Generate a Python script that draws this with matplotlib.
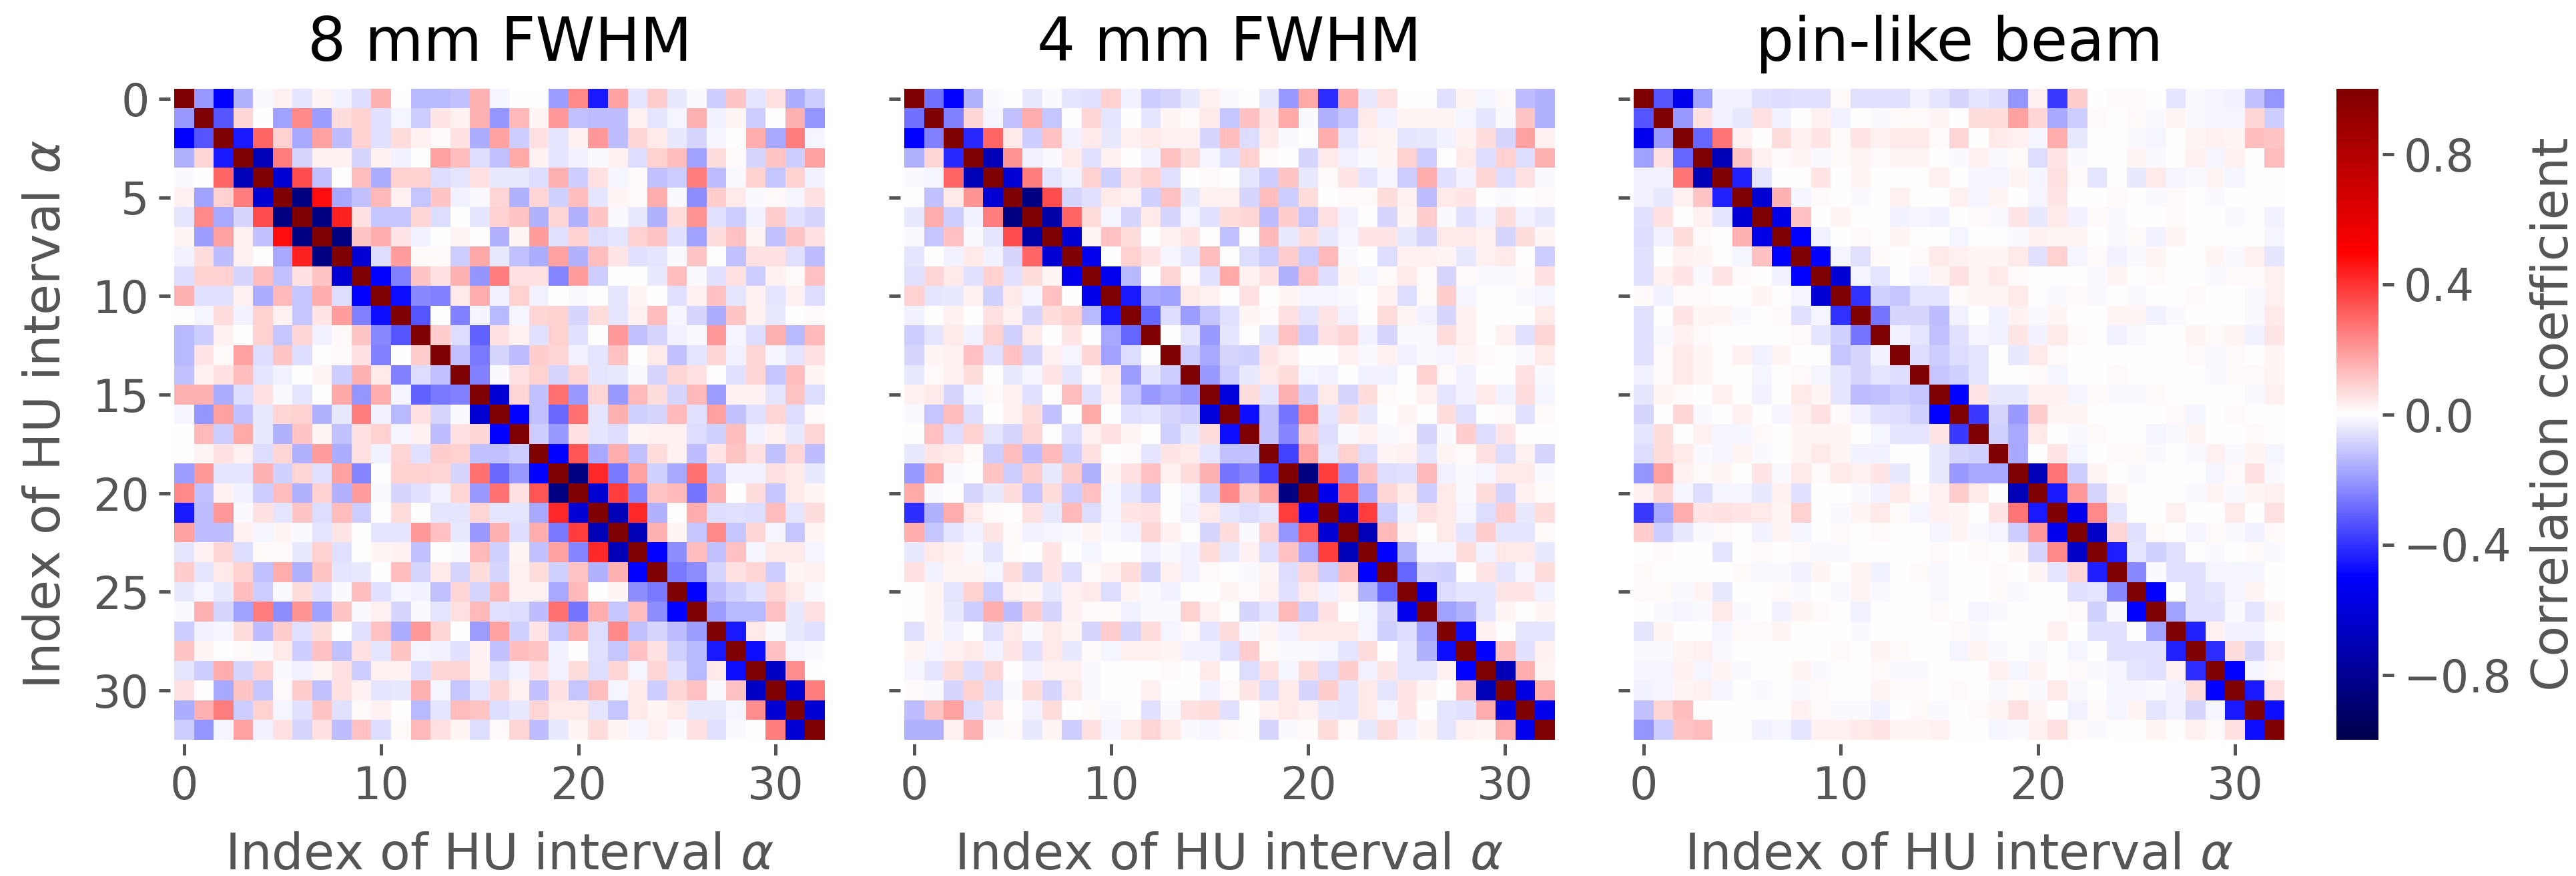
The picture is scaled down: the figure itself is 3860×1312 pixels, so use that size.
import numpy as np
import matplotlib
matplotlib.use("Agg")
import matplotlib.pyplot as plt

W, H = 3861, 1312
DPI = 300

TITLES = ["8 mm FWHM", "4 mm FWHM", "pin-like beam"]
X_TICKS = [0, 10, 20, 30]
Y_TICKS = [0, 5, 10, 15, 20, 25, 30]
CBAR_TICKS = [-0.8, -0.4, 0.0, 0.4, 0.8]
X_LABEL = r"Index of HU interval $\alpha$"
CBAR_LABEL = "Correlation coefficient"

# Upper triangles of the symmetric matrices, in hundredths; row i holds j = i+1 ... 32
FWHM8 = [
    [-20,-50,-15,-1,3,-5,2,-3,-7,15,0,-14,-14,-12,15,-2, 0,0,-19,23,-45,18,-5,10,-4,-1,-10,11,-5,6,-16,-10],
    [-33,8,0,-18,23,-19,7,9,-6,-2,-10,5,3,15,-21, 14,2,20,-12,-13,-13,3,-5,-2,15,-3,2,-10,0,15,-21],
    [-45,30,9,-17,18,-13,9,-6,7,3,1,6,-16,18, -10,6,-5,3,20,-13,8,4,-4,-8,-2,0,16,-17,25,-2],
    [-70,25,-8,3,3,-8,3,-3,0,18,13,-7,-12, 17,3,-5,-3,-1,3,-7,9,13,-18,7,1,-8,11,-10,18],
    [-62,35,-12,0,13,-16,9,9,-7,-5,6,-4, -4,-7,15,-10,6,-2,1,-12,-10,25,-13,-1,9,-11,9,-3],
    [-85,47,-17,-12,14,3,-11,11,-3,-1,8, -15,8,-9,13,-5,2,1,16,-1,-22,10,4,-1,1,-2,6],
    [-85,43,6,-11,-11,8,-7,0,-5,9, 11,-15,8,-15,11,-1,-4,-15,7,21,-6,-10,-3,10,-6,-8],
    [-85,11,16,5,-3,0,2,0,-15, 2,19,-6,9,-7,-5,9,11,-6,-18,7,12,2,-12,11,6],
    [-62,-7,19,1,1,-10,17,-4, -12,-16,18,-15,13,5,-6,-5,-1,11,0,-12,6,6,-6,-13],
    [-50,-25,11,6,15,-21,25, 6,6,-24,19,-10,0,0,-4,13,-1,-6,6,-10,3,1,12],
    [-47,-23,-25,4,16,-3, 9,-3,0,-1,0,-5,2,0,-6,3,12,-5,3,-5,3,-7],
    [-33,0,-25,-2,-14, -2,8,9,-8,7,-5,3,13,-2,-8,-16,11,3,-4,0,1],
    [10,-7,-31,6, 3,-6,9,-6,0,20,-12,-8,-3,-1,20,-2,-7,15,-14,14],
    [-12,-26,-8, -13,10,8,-3,-5,12,0,4,-12,-5,8,-3,8,-2,-5,6],
    [-25,-1, 6,9,-8,8,-5,-4,-1,-8,8,6,0,-6,8,-11,13,2],
    [-62, 8,-12,28,-20,8,-20,14,7,-8,14,-19,3,3,-5,11,-7],
    [-50,-12,-29,28,-5,15,-9,-8,14,-6,18,-12,-6,8,-7,1],
    [-10,-20,6,-5,-7,2,3,3,-7,-9,13,-3,3,-4,8],
    [-50,33,-17,16,-12,7,3,-13,5,11,6,-12,8,-13],
    [-85,42,-26,18,-9,-17,28,-11,-3,-3,6,4,-4],
    [-62,38,-24,11,14,-27,15,0,7,-11,4,2],
    [-70,42,-15,0,16,-7,-6,-7,13,-5,7],
    [-70,15,2,-11,23,-11,8,-2,-11,2],
    [-50,-22,13,-12,12,-2,4,4,-2],
    [-26,-22,-8,6,8,-10,2,3],
    [-50,-13,-9,-6,8,4,-1],
    [-19,-14,-14,12,-4,6],
    [-45,4,-1,-4,-6],
    [-47,12,-2,-1],
    [-66,22,0],
    [-62,25],
    [-62],
]
FWHM4 = [
    [-28,-50,-15,-1,0,-4,-1,-5,-6,9,-3,-10,-8,-4,3,-1, 0,-4,-20,17,-41,16,-4,6,0,0,-6,2,-2,1,-13,-15],
    [-25,8,-2,-12,16,-11,0,8,-5,0,-5,2,1,4,-11, 12,5,17,-1,-15,-11,4,-3,2,2,2,-2,-5,-1,11,-15],
    [-42,30,4,-10,12,-3,4,-4,3,4,3,3,-8,13, -7,4,-1,0,16,-5,3,2,-5,-4,-3,3,7,-8,18,3],
    [-70,21,-3,-1,4,-6,3,0,-3,12,7,-2,-7, 9,1,0,-8,4,-3,-1,2,9,-10,0,4,-7,9,-7,15],
    [-62,25,-5,-3,9,-9,6,9,-6,0,1,0, -5,-10,11,-4,1,5,-5,-2,-10,16,-6,-3,8,-7,6,-1],
    [-85,35,-8,-6,4,3,-9,12,-4,3,3, -8,13,-10,7,0,1,1,7,3,-13,4,5,0,-1,0,1],
    [-75,30,7,-2,-8,4,-8,-2,-6,7, 8,-13,10,-11,6,-3,0,-8,2,10,-1,-6,-3,7,-3,-4],
    [-62,2,12,7,0,3,5,0,-12, 0,14,-4,7,-4,-2,5,5,-4,-8,4,4,3,-8,7,2],
    [-55,0,9,5,-2,-5,13,0, -7,-10,10,-10,14,-1,0,-7,3,3,2,-4,3,4,0,-10],
    [-55,-14,0,8,1,-6,17, 3,6,-15,12,-7,2,-2,1,4,1,-8,1,-1,-1,1,6],
    [-45,-17,-18,4,3,0, 6,0,2,-2,-2,-1,0,3,-7,1,10,-2,0,0,-1,-2],
    [-30,-7,-19,-11,-6, 2,1,6,-5,5,-3,0,7,2,-3,-8,3,0,0,0,4],
    [0,-5,-20,-5, 0,-5,12,-10,6,8,-3,-8,-1,-1,7,3,0,3,-6,8],
    [-10,-17,-8, -9,5,3,0,0,3,-1,3,-3,-1,-2,2,1,0,-1,4],
    [-20,-10, -4,4,7,-2,-3,0,-3,-3,0,9,1,-3,0,0,6,-1],
    [-60, 7,-5,15,-9,4,-8,7,1,0,3,-5,-3,4,-3,7,-2],
    [-47,-12,-27,23,-5,7,-4,0,2,0,7,-6,0,1,-6,1],
    [-12,-24,10,-7,-1,3,-1,1,-8,-1,10,-7,5,0,0],
    [-37,18,-5,9,-7,2,3,-5,2,1,6,-7,3,-8],
    [-85,38,-21,12,-7,-6,14,-3,-1,-2,4,4,-1],
    [-55,33,-17,8,4,-10,4,-1,7,-8,3,1],
    [-62,38,-10,-3,6,4,-2,-7,10,-4,7],
    [-70,14,3,0,4,-5,10,-5,-5,1],
    [-50,-15,-2,-2,7,-3,4,4,-4],
    [-30,-8,-9,0,5,-5,-2,7],
    [-55,-7,-5,-5,5,5,-3],
    [-18,-15,-5,2,0,2],
    [-47,3,0,-5,-5],
    [-50,13,-6,3],
    [-70,16,2],
    [-58,16],
    [-55],
]
PINLIKE = [
    [-33,-55,-18,-3,-3,-6,-7,-6,-6,1,-6,-6,-6,-3,-5,-8, -5,-7,-21,3,-39,10,0,1,1,0,-5,-1,-2,-3,-12,-21],
    [-20,6,-3,-4,6,-3,0,3,-3,0,-1,1,1,2,0, 7,7,18,8,-17,-10,1,0,1,-1,2,-1,-2,-2,8,-10],
    [-30,27,3,0,7,3,5,1,5,3,4,4,1,8, 0,4,3,-2,16,-4,0,0,-1,-2,0,2,3,2,13,11],
    [-70,11,3,1,2,-1,1,2,1,2,2,0,-1, 3,-1,1,-7,5,-1,0,0,2,-1,0,3,-2,3,0,13],
    [-43,-5,0,0,5,0,2,0,0,0,3,0, -2,-2,2,-2,6,1,-5,0,-4,4,-2,-1,2,-2,0,0],
    [-62,15,-2,1,0,-1,0,3,0,0,3, -2,2,0,-2,5,0,0,1,0,-1,1,0,-1,0,0,0],
    [-57,12,0,2,0,0,-3,-2,-3,0, 1,-1,5,-4,4,-3,1,-1,0,0,1,0,0,-1,0,-3],
    [-50,-3,0,1,0,2,0,0,-2, 0,0,-1,3,2,2,0,-1,1,-3,2,0,0,0,0,-2],
    [-50,-2,-6,1,0,1,4,3, 2,2,4,-6,9,-2,1,-3,-1,2,0,0,2,-1,3,-5],
    [-62,-2,-5,0,-2,2,6, 2,4,1,0,0,0,-1,2,0,1,0,0,-1,1,1,3],
    [-40,-9,-11,-5,-5,1, 2,2,4,0,-1,1,-1,0,-1,0,0,1,0,0,-1,3],
    [-27,-8,-8,-13,-3, 0,-3,3,-1,2,0,0,2,2,-3,-1,0,0,0,-1,4],
    [-3,-5,-12,-6, -2,-3,5,-3,4,1,0,-3,-1,0,0,2,1,2,-3,5],
    [-7,-10,-7, -5,0,-4,4,1,0,0,0,0,0,0,1,-1,1,0,2],
    [-11,-9, -5,0,0,1,-2,0,0,1,0,0,0,0,-1,1,1,2],
    [-50, 5,-4,-4,3,3,-2,1,-1,-1,1,0,0,0,0,-1,3],
    [-39,-8,-20,10,2,2,0,0,0,0,1,-2,0,1,0,0],
    [-9,-17,4,0,-1,1,0,0,-2,-1,2,0,0,1,0],
    [-17,0,5,-2,0,1,1,-1,0,-1,3,-1,2,-2],
    [-70,27,-10,2,0,-1,0,0,0,-2,1,6,-1],
    [-45,20,-8,2,0,0,0,-1,2,-1,2,3],
    [-55,23,-5,0,0,3,0,0,4,0,6],
    [-65,8,-6,1,0,-2,1,-1,-3,1],
    [-44,-5,-9,-6,0,-1,0,1,-1],
    [-23,-1,-6,-6,-2,-2,-2,0],
    [-50,0,-6,-5,-2,2,0],
    [-18,-6,-6,-1,-5,2],
    [-43,3,-3,-3,0],
    [-41,7,-8,3],
    [-50,-2,1],
    [-45,6],
    [-47],
]
PANEL_ROWS = [FWHM8, FWHM4, PINLIKE]


def to_matrix(rows):
    n = len(rows) + 1
    m = np.eye(n)
    for i, row in enumerate(rows):
        assert len(row) == n - 1 - i, (i, len(row))
        for k, v in enumerate(row):
            m[i, i + 1 + k] = m[i + 1 + k, i] = v / 100.0
    return m


GREY = "#555555"
plt.rcParams.update({
    "font.family": ["DejaVu Sans"],
    "mathtext.fontset": "dejavusans",
    "xtick.color": GREY, "ytick.color": GREY,
    "axes.labelcolor": GREY,
})

fig = plt.figure(figsize=(W / DPI, H / DPI), dpi=DPI, facecolor="white")


def box(x0, y0, x1, y1):
    return [x0 / W, 1 - y1 / H, (x1 - x0) / W, (y1 - y0) / H]


TICK_STYLE = dict(length=4.0, width=1.2, labelsize=16, pad=3.5)
OFFSET = ("outward", 1.5)
PANEL_X = [(261, 1236), (1355, 2329), (2448, 3423)]
Y0, Y1 = 133, 1108

im = None
for idx, (xa, xb) in enumerate(PANEL_X):
    ax = fig.add_axes(box(xa, Y0, xb, Y1))
    im = ax.imshow(to_matrix(PANEL_ROWS[idx]), cmap="seismic", vmin=-1, vmax=1,
                   interpolation="nearest", aspect="auto")
    ax.set_xticks(X_TICKS)
    ax.set_yticks(Y_TICKS)
    ax.spines["left"].set_position(OFFSET)
    ax.spines["bottom"].set_position(OFFSET)
    for s in ax.spines.values():
        s.set_visible(False)
    ax.tick_params(axis="both", **TICK_STYLE)
    ax.set_xlabel(X_LABEL, fontsize=18, labelpad=8)
    ax.set_title(TITLES[idx], fontsize=21.6, color="black", pad=10)
    if idx == 0:
        ax.set_ylabel(X_LABEL, fontsize=18, labelpad=7.8)
    else:
        ax.tick_params(axis="y", labelleft=False)

cax = fig.add_axes(box(3501, Y0, 3564, Y1))
cb = fig.colorbar(im, cax=cax, ticks=CBAR_TICKS)
cb.outline.set_visible(False)
cax.spines["right"].set_position(OFFSET)
cax.tick_params(axis="y", **TICK_STYLE)
cb.set_label(CBAR_LABEL, fontsize=18, color=GREY, labelpad=6.5)

fig.savefig("out.png", dpi=DPI)
